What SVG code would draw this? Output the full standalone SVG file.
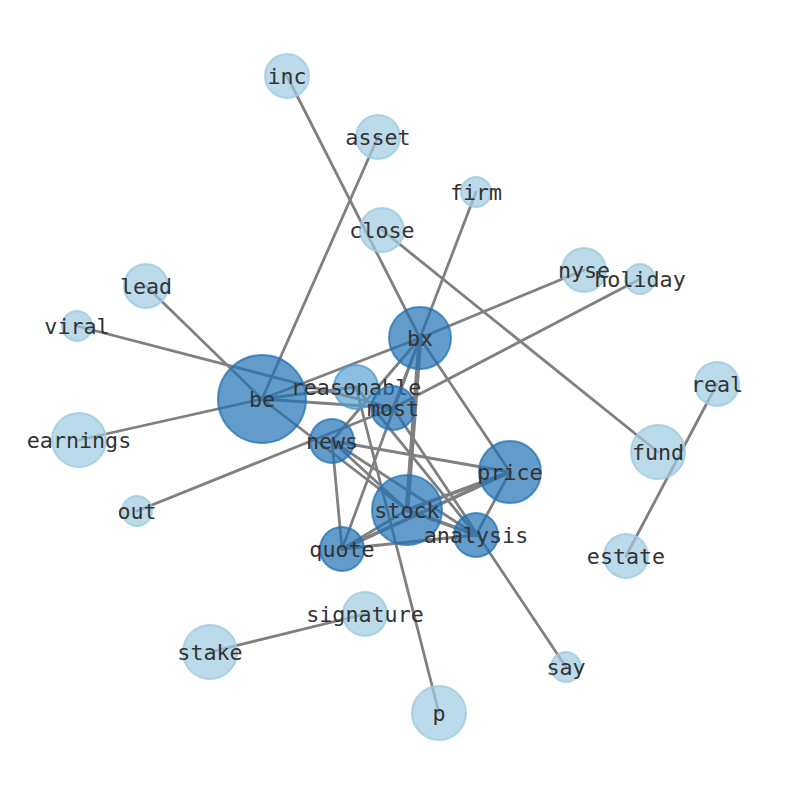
<svg xmlns="http://www.w3.org/2000/svg" width="794" height="790" viewBox="0 0 794 790">
<style>
.e{stroke:#808080;stroke-width:2.8;fill:none;stroke-linecap:round}
.t{stroke-width:4.8}
.m{stroke-width:3.6}
.d{fill:#2171b5;fill-opacity:0.7;stroke:#2171b5;stroke-opacity:0.75;stroke-width:2}
.l{fill:#9ecae1;fill-opacity:0.7;stroke:#9ecae1;stroke-opacity:0.8;stroke-width:2}
.r{fill:#4f9bcf;fill-opacity:0.65;stroke:#4f9bcf;stroke-opacity:0.75;stroke-width:2}
text{font-family:"DejaVu Sans Mono","Liberation Mono",monospace;font-size:21.7px;fill:#333;text-anchor:middle;dominant-baseline:central}
</style>
<rect width="794" height="790" fill="#fff"/>
<g id="connectors">
<line class="e" x1="287" y1="76" x2="420" y2="338"/>
<line class="e" x1="378" y1="137" x2="262" y2="399"/>
<line class="e" x1="476" y1="192" x2="420" y2="338"/>
<line class="e" x1="382" y1="230" x2="658" y2="452"/>
<line class="e" x1="584" y1="270" x2="420" y2="338"/>
<line class="e" x1="640" y1="279" x2="393" y2="408"/>
<line class="e" x1="146" y1="286" x2="262" y2="399"/>
<line class="e" x1="77" y1="326" x2="393" y2="408"/>
<line class="e" x1="79" y1="440" x2="262" y2="399"/>
<line class="e" x1="137" y1="511" x2="393" y2="408"/>
<line class="e" x1="210" y1="652" x2="365" y2="614"/>
<line class="e" x1="439" y1="713" x2="356" y2="387"/>
<line class="e" x1="566" y1="667" x2="393" y2="408"/>
<line class="e" x1="717" y1="384" x2="626" y2="556"/>
<line class="e" x1="262" y1="399" x2="420" y2="338"/>
<line class="e" x1="262" y1="399" x2="356" y2="387"/>
<line class="e" x1="262" y1="399" x2="393" y2="408"/>
<line class="e" x1="262" y1="399" x2="407" y2="510"/>
<line class="e" x1="420" y1="338" x2="393" y2="408"/>
<line class="e" x1="420" y1="338" x2="332" y2="441"/>
<line class="e t" x1="420" y1="338" x2="407" y2="510"/>
<line class="e" x1="420" y1="338" x2="510" y2="472"/>
<line class="e" x1="420" y1="338" x2="342" y2="549"/>
<line class="e" x1="332" y1="441" x2="510" y2="472"/>
<line class="e" x1="332" y1="441" x2="407" y2="510"/>
<line class="e" x1="332" y1="441" x2="476" y2="535"/>
<line class="e" x1="332" y1="441" x2="342" y2="549"/>
<line class="e" x1="356" y1="387" x2="476" y2="535"/>
<line class="e" x1="342" y1="549" x2="407" y2="510"/>
<line class="e m" x1="342" y1="549" x2="510" y2="472"/>
<line class="e" x1="342" y1="549" x2="476" y2="535"/>
<line class="e m" x1="407" y1="510" x2="510" y2="472"/>
<line class="e m" x1="407" y1="510" x2="476" y2="535"/>
<line class="e" x1="510" y1="472" x2="476" y2="535"/>
</g>
<g id="inc"><circle class="l" cx="287" cy="76" r="22"/><text x="287" y="76">inc</text></g>
<g id="asset"><circle class="l" cx="378" cy="137" r="22"/><text x="378" y="137">asset</text></g>
<g id="firm"><circle class="l" cx="476" cy="192" r="15"/><text x="476" y="192">firm</text></g>
<g id="close"><circle class="l" cx="382" cy="230" r="22"/><text x="382" y="230">close</text></g>
<g id="nyse"><circle class="l" cx="584" cy="270" r="22"/><text x="584" y="270">nyse</text></g>
<g id="holiday"><circle class="l" cx="640" cy="279" r="15"/><text x="640" y="279">holiday</text></g>
<g id="lead"><circle class="l" cx="146" cy="286" r="22"/><text x="146" y="286">lead</text></g>
<g id="viral"><circle class="l" cx="77" cy="326" r="15"/><text x="77" y="326">viral</text></g>
<g id="real"><circle class="l" cx="717" cy="384" r="22"/><text x="717" y="384">real</text></g>
<g id="earnings"><circle class="l" cx="79" cy="440" r="27"/><text x="79" y="440">earnings</text></g>
<g id="fund"><circle class="l" cx="658" cy="452" r="27"/><text x="658" y="452">fund</text></g>
<g id="out"><circle class="l" cx="137" cy="511" r="15"/><text x="137" y="511">out</text></g>
<g id="estate"><circle class="l" cx="626" cy="556" r="22"/><text x="626" y="556">estate</text></g>
<g id="signature"><circle class="l" cx="365" cy="614" r="22"/><text x="365" y="614">signature</text></g>
<g id="stake"><circle class="l" cx="210" cy="652" r="27"/><text x="210" y="652">stake</text></g>
<g id="say"><circle class="l" cx="566" cy="667" r="15"/><text x="566" y="667">say</text></g>
<g id="p"><circle class="l" cx="439" cy="713" r="27"/><text x="439" y="713">p</text></g>
<g id="be"><circle class="d" cx="262" cy="399" r="44"/><text x="262" y="399">be</text></g>
<g id="bx"><circle class="d" cx="420" cy="338" r="31"/><text x="420" y="338">bx</text></g>
<g id="reasonable"><circle class="r" cx="356" cy="387" r="22"/><text x="356" y="387">reasonable</text></g>
<g id="most"><circle class="d" cx="393" cy="408" r="22"/><text x="393" y="408">most</text></g>
<g id="news"><circle class="d" cx="332" cy="441" r="22"/><text x="332" y="441">news</text></g>
<g id="price"><circle class="d" cx="510" cy="472" r="31"/><text x="510" y="472">price</text></g>
<g id="stock"><circle class="d" cx="407" cy="510" r="35"/><text x="407" y="510">stock</text></g>
<g id="analysis"><circle class="d" cx="476" cy="535" r="22"/><text x="476" y="535">analysis</text></g>
<g id="quote"><circle class="d" cx="342" cy="549" r="22"/><text x="342" y="549">quote</text></g>
</svg>
